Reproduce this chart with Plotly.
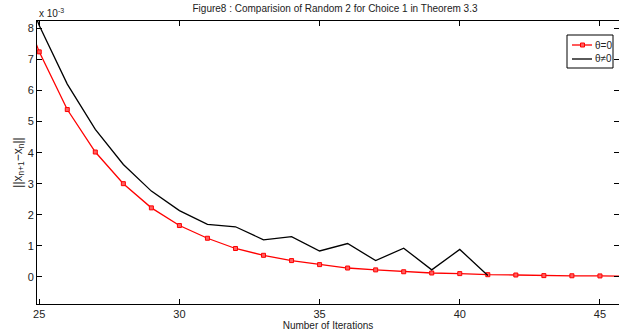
import plotly.graph_objects as go

# values in units of 1e-3
iters_red = [24, 25, 26, 27, 28, 29, 30, 31, 32, 33, 34, 35, 36, 37, 38, 39, 40, 41, 42, 43, 44, 45, 46]
err_theta0 = [9.6, 7.25, 5.39, 4.02, 3.0, 2.22, 1.65, 1.24, 0.91, 0.69, 0.52, 0.39, 0.28, 0.22, 0.16,
              0.12, 0.10, 0.065, 0.055, 0.035, 0.03, 0.025, 0.02]
iters_black = [24, 25, 26, 27, 28, 29, 30, 31, 32, 33, 34, 35, 36, 37, 38, 39, 40, 41]
err_theta_nz = [10.5, 8.1, 6.21, 4.75, 3.62, 2.76, 2.13, 1.69, 1.61, 1.19, 1.29, 0.83, 1.07, 0.52,
                0.92, 0.22, 0.88, 0.04]
x_ticks = [25, 30, 35, 40, 45]
y_ticks = [0, 1, 2, 3, 4, 5, 6, 7, 8]
series_names = ["θ=0", "θ≠0"]
series_colors = ["#ff0000", "#000000"]

FONT = "Liberation Sans, Arial, Helvetica, sans-serif"
W, H = 619, 336
ML, MR, MT, MB = 37, 0, 21, 32
PW, PH = W - ML - MR, H - MT - MB


def px(x):
    return (x - ML) / PW


def py(y):
    return (H - MB - y) / PH


fig = go.Figure()
fig.add_trace(go.Scatter(
    x=iters_red, y=err_theta0, mode="lines+markers", name=series_names[0],
    line=dict(color=series_colors[0], width=1.3),
    marker=dict(symbol="square", size=4, color="#ff6060", line=dict(color=series_colors[0], width=1)),
    showlegend=False,
))
fig.add_trace(go.Scatter(
    x=iters_black, y=err_theta_nz, mode="lines", name=series_names[1],
    line=dict(color=series_colors[1], width=1.3),
    showlegend=False,
))

axis_common = dict(
    showline=True, linecolor="black", linewidth=1, mirror="ticks",
    ticks="inside", ticklen=5, tickcolor="black", tickwidth=1,
    showgrid=False, zeroline=False,
    tickfont=dict(family=FONT, size=11, color="#222"),
)
fig.update_layout(
    width=W, height=H,
    margin=dict(l=ML, r=MR, t=MT, b=MB),
    paper_bgcolor="white", plot_bgcolor="white",
    font=dict(family=FONT, size=10, color="#222"),
    title=dict(text="Figure8 : Comparision of Random 2 for Choice 1 in Theorem 3.3",
               x=(37 + 633) / 2 / W, xanchor="center", y=1 - 8 / H, yanchor="middle",
               font=dict(family=FONT, size=10, color="#222")),
    xaxis=dict(range=[24.92, 45.68], tickvals=x_ticks, ticktext=[str(v) for v in x_ticks],
               title=dict(text="Number of Iterations", standoff=0,
                          font=dict(family=FONT, size=10, color="#222")),
               **axis_common),
    yaxis=dict(range=[-0.88, 8.245], tickvals=y_ticks, ticktext=[str(v) for v in y_ticks],
               title=dict(text="||x<sub>n+1</sub>−x<sub>n</sub>||", standoff=2,
                          font=dict(family=FONT, size=12, color="#222")),
               **axis_common),
    showlegend=False,
)
fig.add_annotation(text="x 10<sup>-3</sup>", xref="paper", yref="paper",
                   x=0, y=1, xanchor="left", yanchor="bottom",
                   showarrow=False, font=dict(family=FONT, size=10, color="#222"))

# custom MATLAB-style legend box
fig.add_shape(type="rect", xref="paper", yref="paper",
              x0=px(567), x1=px(613), y0=py(68), y1=py(35),
              line=dict(color="black", width=1), fillcolor="white", layer="above")
rows_y = [45, 59]
for i, (name, col) in enumerate(zip(series_names, series_colors)):
    yy = py(rows_y[i])
    fig.add_shape(type="line", xref="paper", yref="paper",
                  x0=px(572), x1=px(592), y0=yy, y1=yy,
                  line=dict(color=col, width=1.3), layer="above")
    if i == 0:
        fig.add_shape(type="rect", xref="paper", yref="paper",
                      x0=px(580.5), x1=px(584.5), y0=py(rows_y[i] + 2), y1=py(rows_y[i] - 2),
                      line=dict(color=col, width=1), fillcolor="#ff6060", layer="above")
    fig.add_annotation(text=name, xref="paper", yref="paper", x=px(593), y=yy,
                       xanchor="left", yanchor="middle", showarrow=False,
                       font=dict(family=FONT, size=10, color="#222"))

fig.write_html("out.html")
